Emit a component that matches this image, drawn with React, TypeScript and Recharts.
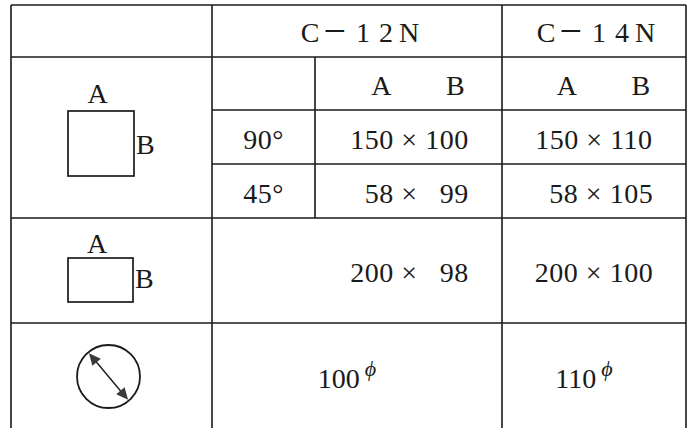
import { ScatterChart, Scatter, XAxis, YAxis, ReferenceLine } from "recharts";

// table content
const models = ["C−12N", "C−14N"];
const dimLabels = ["A", "B"];
const angles = ["90°", "45°"];
const c12nSquare = [
  [150, 100],
  [58, 99],
];
const c14nSquare = [
  [150, 110],
  [58, 105],
];
const rectSizes = [
  [200, 98],
  [200, 100],
];
const roundSizes = [100, 110];

// layout (axis units == px, the chart is 691 x 428 with no margin)
const W = 691;
const H = 428;
const colX = [11, 212, 315, 502, 686];
const rowY = [5, 57, 110, 164, 218, 323, 428];
const lastRowMid = 378;

const INK = "#1a1a1a";
const FONT = "'Liberation Serif', 'Times New Roman', serif";
const FS = 28;

const mid = (a: number, b: number) => (a + b) / 2;
const pad = (n: number) => String(n).padStart(3, "\u2007");
const dims = ([a, b]: number[]) => `${pad(a)} × ${pad(b)}`;

type Cell = { x: number; y: number; text: string; kind?: string };

const subX = [mid(colX[2], colX[3]), mid(colX[3], colX[4])];

const cells: Cell[] = [
  ...models.map((m, i) => ({
    x: i === 0 ? mid(colX[1], colX[3]) + 3 : mid(colX[3], colX[4]) + 2,
    y: mid(rowY[0], rowY[1]),
    text: m,
    kind: "head",
  })),
  ...subX.flatMap((cx) =>
    dimLabels.map((d, j) => ({ x: cx + (j === 0 ? -27 : 47), y: mid(rowY[1], rowY[2]), text: d }))
  ),
  ...angles.map((a, i) => ({ x: mid(colX[1], colX[2]), y: mid(rowY[2 + i], rowY[3 + i]), text: a })),
  ...c12nSquare.map((v, i) => ({ x: subX[0] + 1, y: mid(rowY[2 + i], rowY[3 + i]), text: dims(v) })),
  ...c14nSquare.map((v, i) => ({ x: subX[1], y: mid(rowY[2 + i], rowY[3 + i]), text: dims(v) })),
  ...rectSizes.map((v, i) => ({ x: subX[i] + (i === 0 ? 1 : 0), y: mid(rowY[4], rowY[5]), text: dims(v) })),
  ...roundSizes.map((v, i) => ({
    x: (i === 0 ? mid(colX[1], colX[3]) : mid(colX[3], colX[4])) - 10,
    y: lastRowMid,
    text: String(v),
    kind: "round",
  })),
];

const icons = [
  { kind: "square", x: 101, y: 143.5, w: 66, h: 65 },
  { kind: "rect", x: 100.5, y: 280, w: 65, h: 44 },
  { kind: "circle", x: 108.5, y: 376.5, r: 31.5 },
];

const hLines = [
  { y: rowY[0], x1: colX[0], x2: colX[4] },
  { y: rowY[1], x1: colX[0], x2: colX[4] },
  { y: rowY[2], x1: colX[1], x2: colX[4] },
  { y: rowY[3], x1: colX[1], x2: colX[4] },
  { y: rowY[4], x1: colX[0], x2: colX[4] },
  { y: rowY[5], x1: colX[0], x2: colX[4] },
];
const vLines = [
  { x: colX[0], y1: rowY[0], y2: rowY[6] },
  { x: colX[1], y1: rowY[0], y2: rowY[6] },
  { x: colX[2], y1: rowY[1], y2: rowY[4] },
  { x: colX[3], y1: rowY[0], y2: rowY[6] },
  { x: colX[4], y1: rowY[0], y2: rowY[6] },
];

// header glyph gaps, the dash drawn wide like the full-width original
const headGap = [0, 4, 10, 9, 6];

const TextShape = (props: any) => {
  const { cx, cy, payload } = props;
  if (payload.kind === "head") {
    const chars = Array.from(payload.text as string);
    return (
      <text x={cx} y={cy + 11} textAnchor="middle" fontFamily={FONT} fontSize={FS} fill={INK}>
        {chars.map((ch, k) => {
          const dash = ch === "−";
          const prevDash = k > 0 && chars[k - 1] === "−";
          return (
            <tspan key={k} dx={headGap[k] ?? 0} dy={dash ? 2 : prevDash ? -2 : 0} fontSize={dash ? 40 : FS}>
              {ch}
            </tspan>
          );
        })}
      </text>
    );
  }
  if (payload.kind === "round") {
    return (
      <text x={cx} y={cy + 10} textAnchor="middle" fontFamily={FONT} fontSize={FS} fill={INK}>
        {payload.text}
        <tspan dx={5} dy={-12} fontSize={22} fontStyle="italic">
          ϕ
        </tspan>
      </text>
    );
  }
  return (
    <text
      x={cx}
      y={cy + 11.5}
      textAnchor="middle"
      fontFamily={FONT}
      fontSize={FS}
      letterSpacing={0.5}
      fill={INK}
      style={{ whiteSpace: "pre" }}
    >
      {payload.text}
    </text>
  );
};

const IconShape = (props: any) => {
  const { cx, cy, payload } = props;
  if (payload.kind === "circle") {
    const r = payload.r;
    const a = (50 * Math.PI) / 180;
    const ux = Math.cos(a);
    const uy = Math.sin(a);
    const L = r - 1;
    const head = (s: number) => {
      const tx = cx + s * L * ux;
      const ty = cy + s * L * uy;
      const bx = tx - s * 12 * ux;
      const by = ty - s * 12 * uy;
      const px = -uy * 5.5;
      const py = ux * 5.5;
      return `${tx},${ty} ${bx + px},${by + py} ${bx - px},${by - py}`;
    };
    return (
      <g>
        <circle cx={cx} cy={cy} r={r} fill="none" stroke={INK} strokeWidth={1.8} />
        <line
          x1={cx - (L - 10) * ux}
          y1={cy - (L - 10) * uy}
          x2={cx + (L - 10) * ux}
          y2={cy + (L - 10) * uy}
          stroke={INK}
          strokeWidth={1.4}
        />
        <polygon points={head(-1)} fill="#3a3a3a" />
        <polygon points={head(1)} fill="#3a3a3a" />
      </g>
    );
  }
  const { w, h } = payload;
  const left = cx - w / 2;
  const top = cy - h / 2;
  const aGap = payload.kind === "square" ? 8 : 5;
  return (
    <g fontFamily={FONT} fontSize={FS} fill={INK}>
      <rect x={left} y={top} width={w} height={h} fill="none" stroke={INK} strokeWidth={1.7} />
      <text x={cx - 3.5} y={top - aGap} textAnchor="middle">
        A
      </text>
      <text x={left + w + 2} y={cy + (payload.kind === "square" ? 10 : 8)}>
        B
      </text>
    </g>
  );
};

export default function App() {
  return (
    <div style={{ position: "absolute", left: 0, top: 0, width: W, height: H, background: "#fff" }}>
      <ScatterChart width={W} height={H} margin={{ top: 0, right: 0, bottom: 0, left: 0 }}>
        <XAxis type="number" dataKey="x" domain={[0, W]} hide allowDataOverflow />
        <YAxis type="number" dataKey="y" domain={[0, H]} reversed hide allowDataOverflow />
        {hLines.map((l, i) => (
          <ReferenceLine
            key={`h${i}`}
            segment={[
              { x: l.x1, y: l.y },
              { x: l.x2, y: l.y },
            ]}
            stroke={INK}
            strokeWidth={1.6}
            ifOverflow="visible"
          />
        ))}
        {vLines.map((l, i) => (
          <ReferenceLine
            key={`v${i}`}
            segment={[
              { x: l.x, y: l.y1 },
              { x: l.x, y: l.y2 },
            ]}
            stroke={INK}
            strokeWidth={1.6}
            ifOverflow="visible"
          />
        ))}
        <Scatter data={icons} shape={IconShape} isAnimationActive={false} />
        <Scatter data={cells} shape={TextShape} isAnimationActive={false} />
      </ScatterChart>
    </div>
  );
}
